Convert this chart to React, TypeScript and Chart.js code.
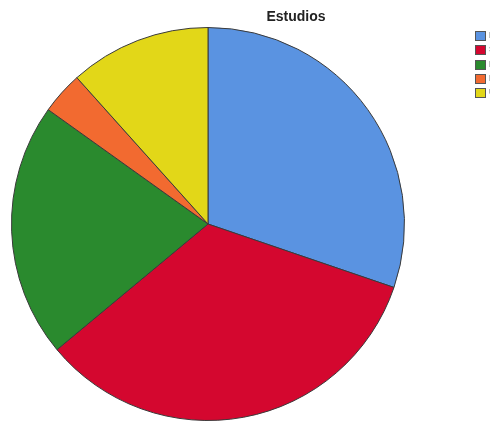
import React, { useEffect, useRef } from "react";
import { Chart, registerables } from "chart.js";

Chart.register(...registerables);

const title = "Estudios";
const categories = ["Primarios", "Secundarios", "Bachillerato", "Formación profesional", "Universitarios"];
const counts = [26, 29, 18, 3, 10];
const colors = ["#5A93E1", "#D4072F", "#2A8A2E", "#F26A30", "#E2D718"];

const overlayPlugin = {
  id: "overlay",
  afterDraw(chart: any) {
    const ctx = chart.ctx;
    ctx.save();
    ctx.fillStyle = "#222";
    ctx.font = "bold 14px 'Liberation Sans', Arial, sans-serif";
    ctx.textAlign = "center";
    ctx.textBaseline = "middle";
    ctx.fillText(title, 296, 17);
    const labels = chart.data.labels as string[];
    const bg = chart.data.datasets[0].backgroundColor as string[];
    labels.forEach((lab, i) => {
      const y = Math.round(31 + i * 14.3);
      ctx.fillStyle = bg[i];
      ctx.fillRect(475, y, 10, 9);
      ctx.strokeStyle = "#555";
      ctx.lineWidth = 1;
      ctx.strokeRect(475.5, y + 0.5, 10, 9);
      ctx.fillStyle = "#222";
      ctx.font = "9px 'Liberation Sans', Arial, sans-serif";
      ctx.textAlign = "left";
      ctx.fillText(lab, 489, y + 5);
    });
    ctx.restore();
  },
};

export default function App() {
  const ref = useRef<HTMLCanvasElement>(null);
  useEffect(() => {
    const chart = new Chart(ref.current!, {
      type: "pie",
      data: {
        labels: categories,
        datasets: [
          {
            data: counts,
            backgroundColor: colors,
            borderColor: "#3a3a3a",
            borderWidth: 1,
          },
        ],
      },
      options: {
        animation: false,
        responsive: false,
        maintainAspectRatio: false,
        layout: { padding: { left: 11, top: 27, right: 85, bottom: 0 } },
        plugins: {
          legend: { display: false },
          title: { display: false },
          tooltip: { enabled: false },
        },
      },
      plugins: [overlayPlugin],
    });
    return () => chart.destroy();
  }, []);
  return (
    <div style={{ position: "fixed", left: 0, top: 0, width: 490, height: 421, background: "#fff" }}>
      <canvas ref={ref} width={490} height={421} style={{ display: "block", width: 490, height: 421 }} />
    </div>
  );
}
